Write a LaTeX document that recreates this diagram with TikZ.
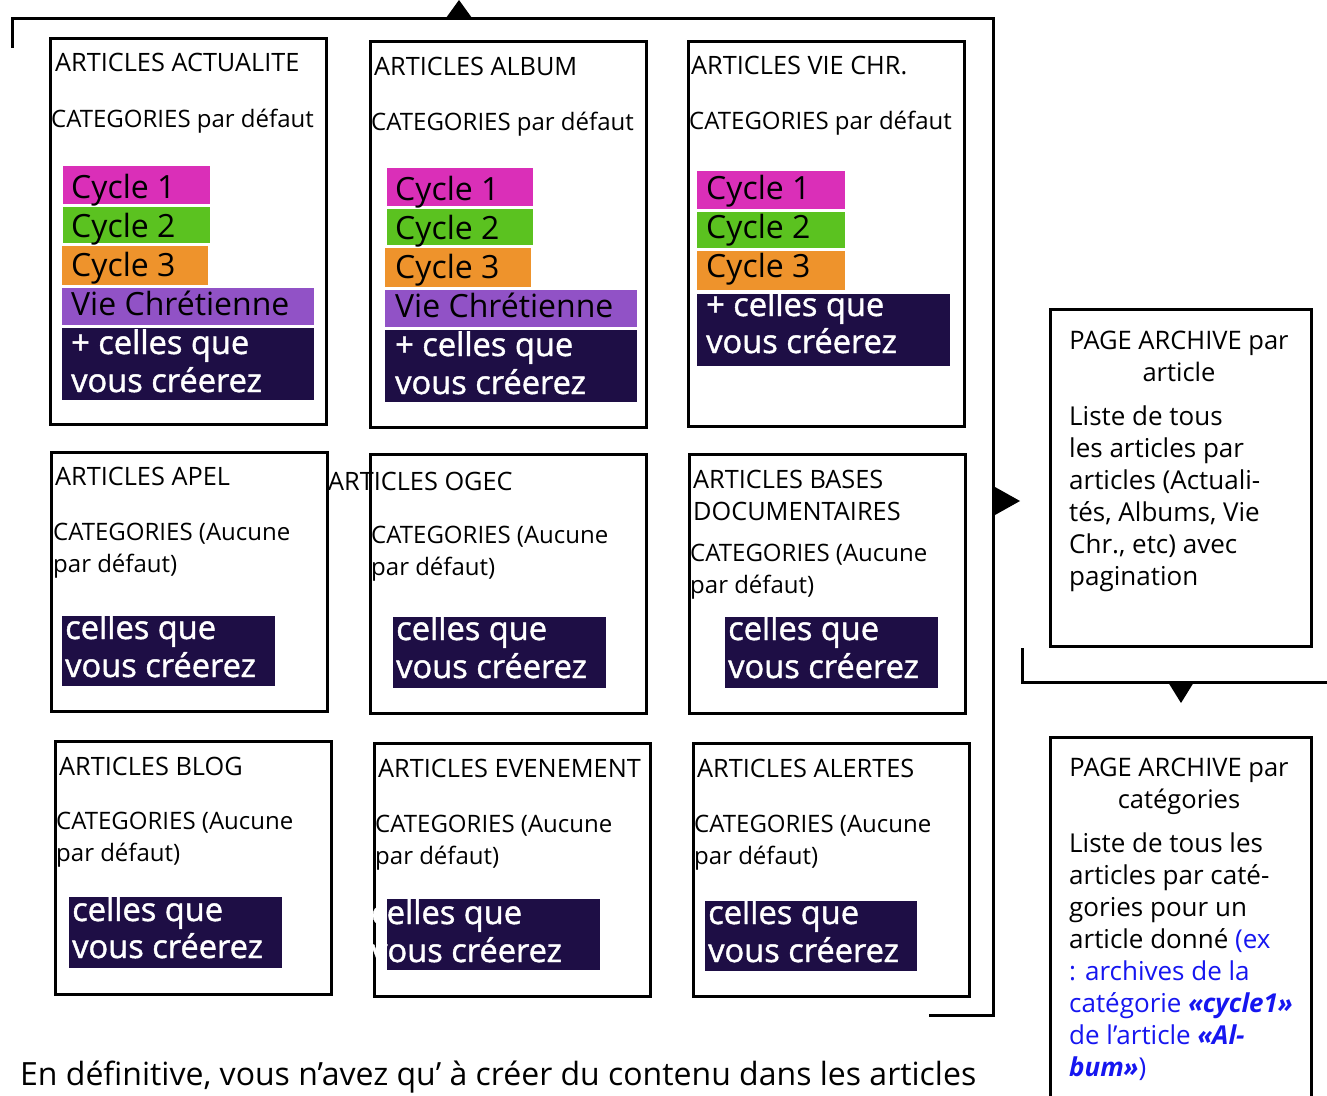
\documentclass[tikz,border=0pt]{standalone}
\usepackage{fontspec}
\setmainfont{Open Sans}
\newfontfamily\semifont[FakeBold=1.3]{Open Sans}
\definecolor{cmag}{RGB}{218,47,184}
\definecolor{cgreen}{RGB}{91,194,32}
\definecolor{corange}{RGB}{238,147,44}
\definecolor{cpurple}{RGB}{145,82,198}
\definecolor{cdark}{RGB}{30,14,69}
\definecolor{cblue}{RGB}{22,22,240}
\begin{document}
\begin{tikzpicture}[x=1pt,y=-1pt,
  frame/.style={draw=black,line width=3pt},
  hdr/.style={anchor=base west,inner sep=0pt,font=\fontsize{25.3}{32}\selectfont},
  cat/.style={anchor=base west,inner sep=0pt,font=\fontsize{24}{32}\selectfont},
  lab/.style={anchor=base west,inner sep=0pt,font=\fontsize{32}{38}\selectfont},
  wlab/.style={anchor=base west,inner sep=0pt,text=white,font=\semifont\fontsize{32.6}{38}\selectfont},
  ctr/.style={anchor=base,inner sep=0pt,font=\fontsize{25.5}{32}\selectfont},
  body/.style={anchor=base west,inner sep=0pt,font=\fontsize{26}{32}\selectfont},
  tip/.style={fill=black,draw=none},
  conn/.style={draw=black,line width=3pt}]
\useasboundingbox (0,0) rectangle (1327,1095);
\fill[white] (0,0) rectangle (1327,1095);

% ---------- Row 1 ----------
% Box A
\draw[frame] (50,38) rectangle (326,424);
\fill[cmag] (63,166) rectangle (210,204);
\fill[cgreen] (63,207) rectangle (210,243);
\fill[corange] (62,246) rectangle (208,285);
\fill[cpurple] (62,288) rectangle (314,325);
\fill[cdark] (62,328) rectangle (314,400);
\node[hdr] (aH) at (55,71) {ARTICLES ACTUALITE};
\node[cat] (aC) at (51,127) {CATEGORIES par défaut};
\node[lab] (a1) at (71,198) {Cycle 1};
\node[lab] (a2) at (71,237) {Cycle 2};
\node[lab] (a3) at (71,276) {Cycle 3};
\node[lab] (a4) at (71,315) {Vie Chrétienne};
\node[wlab] (a5) at (71,354) {+ celles que};
\node[wlab] (a6) at (71,392) {vous créerez};

% Box B
\draw[frame] (370,41) rectangle (646,427);
\fill[cmag] (387,168) rectangle (533,206);
\fill[cgreen] (387,209) rectangle (533,245);
\fill[corange] (385,248) rectangle (531,287);
\fill[cpurple] (385,290) rectangle (637,327);
\fill[cdark] (385,330) rectangle (637,402);
\node[hdr] (bH) at (374,75) {ARTICLES ALBUM};
\node[cat] (bC) at (371,130) {CATEGORIES par défaut};
\node[lab] (b1) at (395,200) {Cycle 1};
\node[lab] (b2) at (395,239) {Cycle 2};
\node[lab] (b3) at (395,278) {Cycle 3};
\node[lab] (b4) at (395,317) {Vie Chrétienne};
\node[wlab] (b5) at (395,356) {+ celles que};
\node[wlab] (b6) at (395,394) {vous créerez};

% Box C
\draw[frame] (688,41) rectangle (964,426);
\fill[cmag] (697,171) rectangle (845,209);
\fill[cgreen] (697,212) rectangle (845,248);
\fill[corange] (697,251) rectangle (845,290);
\fill[cdark] (697,294) rectangle (950,366);
\node[hdr] (cH) at (691,74) {ARTICLES VIE CHR.};
\node[cat] (cC) at (689,129) {CATEGORIES par défaut};
\node[lab] (c1) at (706,199) {Cycle 1};
\node[lab] (c2) at (706,238) {Cycle 2};
\node[lab] (c3) at (706,277) {Cycle 3};
\node[wlab] (c5) at (706,316) {+ celles que};
\node[wlab] (c6) at (706,353) {vous créerez};

% ---------- Row 2 ----------
% APEL
\draw[frame] (51,452) rectangle (327,711);
\fill[cdark] (62,616) rectangle (275,686);
\node[hdr] (dH) at (55,485) {ARTICLES APEL};
\node[cat] (dC1) at (53,540) {CATEGORIES (Aucune};
\node[cat] (dC2) at (53,572) {par défaut)};
\node[wlab] (d5) at (65,639) {celles que};
\node[wlab] (d6) at (65,677) {vous créerez};

% OGEC
\draw[frame] (370,454) rectangle (646,713);
\fill[cdark] (393,617) rectangle (606,688);
\node[hdr] (eH) at (328,490) {ARTICLES OGEC};
\node[cat] (eC1) at (371,543) {CATEGORIES (Aucune};
\node[cat] (eC2) at (371,575) {par défaut)};
\node[wlab] (e5) at (396,640) {celles que};
\node[wlab] (e6) at (396,678) {vous créerez};

% BASES DOCUMENTAIRES
\draw[frame] (689,454) rectangle (965,713);
\fill[cdark] (725,617) rectangle (938,688);
\node[hdr] (fH1) at (693,488) {ARTICLES BASES};
\node[hdr] (fH2) at (693,520) {DOCUMENTAIRES};
\node[cat] (fC1) at (690,561) {CATEGORIES (Aucune};
\node[cat] (fC2) at (690,593) {par défaut)};
\node[wlab] (f5) at (728,640) {celles que};
\node[wlab] (f6) at (728,678) {vous créerez};

% ---------- Row 3 ----------
% BLOG
\draw[frame] (55,741) rectangle (331,994);
\fill[cdark] (69,897) rectangle (282,968);
\node[hdr] (gH) at (59,775) {ARTICLES BLOG};
\node[cat] (gC1) at (56,829) {CATEGORIES (Aucune};
\node[cat] (gC2) at (56,861) {par défaut)};
\node[wlab] (g5) at (72,921) {celles que};
\node[wlab] (g6) at (72,958) {vous créerez};

% EVENEMENT
\draw[frame] (374,743) rectangle (650,996);
\fill[cdark] (387,899) rectangle (600,970);
\node[hdr] (hH) at (378,777) {ARTICLES EVENEMENT};
\node[cat] (hC1) at (375,832) {CATEGORIES (Aucune};
\node[cat] (hC2) at (375,864) {par défaut)};
\node[wlab] (h5) at (371,924) {celles que};
\node[wlab] (h6) at (371,962) {vous créerez};

% ALERTES
\draw[frame] (693,743) rectangle (969,996);
\fill[cdark] (705,901) rectangle (917,971);
\node[hdr] (iH) at (697,777) {ARTICLES ALERTES};
\node[cat] (iC1) at (694,832) {CATEGORIES (Aucune};
\node[cat] (iC2) at (694,864) {par défaut)};
\node[wlab] (i5) at (708,924) {celles que};
\node[wlab] (i6) at (708,962) {vous créerez};

% ---------- Archive pages ----------
\draw[frame] (1050,309) rectangle (1311,646);
\node[ctr] (p1a) at (1179,349) {PAGE ARCHIVE par};
\node[ctr] (p1b) at (1179,381) {article};
\node[body] (p1c) at (1069,425) {Liste de tous};
\node[body] (p1d) at (1069,457) {les articles par};
\node[body] (p1e) at (1069,489) {articles (Actuali-};
\node[body] (p1f) at (1069,521) {tés, Albums, Vie};
\node[body] (p1g) at (1069,553) {Chr., etc) avec};
\node[body] (p1h) at (1069,585) {pagination};

\draw[frame] (1050,737) rectangle (1311,1110);
\node[ctr] (p2a) at (1179,776) {PAGE ARCHIVE par};
\node[ctr] (p2b) at (1179,808) {catégories};
\node[body] (p2c) at (1069,852) {Liste de tous les};
\node[body] (p2d) at (1069,884) {articles par caté-};
\node[body] (p2e) at (1069,916) {gories pour un};
\node[body] (p2f) at (1069,948) {article donné \textcolor{cblue}{(ex}};
\node[body,text=cblue] (p2g) at (1069,980) {: archives de la};
\node[body,text=cblue] (p2h) at (1069,1012) {catégorie \textbf{\textit{«cycle1»}}};
\node[body,text=cblue] (p2i) at (1069,1044) {de l’article \textbf{\textit{«Al-}}};
\node[body,text=cblue] (p2j) at (1069,1076) {\textbf{\textit{bum»}})};

% ---------- Connectors ----------
\coordinate (o1) at (12,46);
\coordinate (o2) at (12,18);
\coordinate (o3) at (993,18);
\coordinate (o4) at (993,1015);
\coordinate (o5) at (930,1015);
\draw[conn,line cap=rect] (o1) -- (o2) -- (o3) -- (o4) -- (o5);
\coordinate (q1) at (1022,648);
\coordinate (q2) at (1022,682);
\coordinate (q3) at (1327,682);
\draw[conn] (q1) -- (q2) -- (q3);
% arrow tips
\fill[tip] (446,18) -- (459,0) -- (472,18) -- cycle;
\fill[tip] (995,487) -- (1020,501) -- (995,515) -- cycle;
\fill[tip] (1168,682) -- (1181,703) -- (1194,682) -- cycle;

% bottom text
\node[anchor=base west,inner sep=0pt,font=\fontsize{32}{36}\selectfont] (foot) at (20,1085) {En définitive, vous n’avez qu’ à créer du contenu dans les articles};
\end{tikzpicture}
\end{document}
